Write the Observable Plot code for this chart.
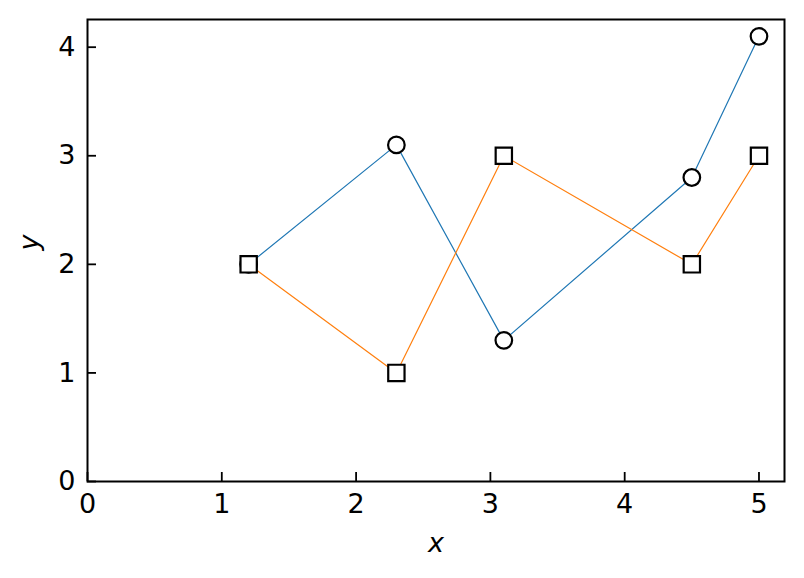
<!DOCTYPE html>
<html>
<head>
<meta charset="utf-8">
<script src="https://cdn.jsdelivr.net/npm/d3@7"></script>
<script src="https://cdn.jsdelivr.net/npm/@observablehq/plot@0.6"></script>
<style>
  html, body { margin: 0; padding: 0; background: #fff; }
  svg { display: block; }
</style>
</head>
<body>
<div id="chart"></div>
<script>
const xValues = [1.2, 2.3, 3.1, 4.5, 5.0];
const seriesA = [2.0, 3.1, 1.3, 2.8, 4.1];
const seriesB = [2.0, 1.0, 3.0, 2.0, 3.0];
const xTicks = [0, 1, 2, 3, 4, 5];
const yTicks = [0, 1, 2, 3, 4];

const dataA = xValues.map((x, i) => ({x, y: seriesA[i]}));
const dataB = xValues.map((x, i) => ({x, y: seriesB[i]}));

const chart = Plot.plot({
  width: 804,
  height: 578,
  marginLeft: 87,
  marginRight: 20,
  marginTop: 19,
  marginBottom: 97,
  style: {fontFamily: "DejaVu Sans", fontSize: "27px", color: "#000", background: "#fff"},
  x: {domain: [0, 5.19]},
  y: {domain: [0, 4.255]},
  marks: [
    Plot.axisX({ticks: xTicks, tickSize: -9, tickPadding: 21, strokeWidth: 1.8, label: null, fontSize: 27, tickFormat: d => String(d)}),
    Plot.axisY({ticks: yTicks, tickSize: -9, tickPadding: 21, strokeWidth: 1.8, label: null, fontSize: 27, tickFormat: d => String(d)}),
    Plot.line(dataA, {x: "x", y: "y", stroke: "#1f77b4", strokeWidth: 1.2}),
    Plot.dot(dataA, {x: "x", y: "y", symbol: "circle", r: 8.3, fill: "#fff", stroke: "#000", strokeWidth: 2.2}),
    Plot.line(dataB, {x: "x", y: "y", stroke: "#ff7f0e", strokeWidth: 1.2}),
    Plot.dot(dataB, {x: "x", y: "y", symbol: "square", r: 9.2, fill: "#fff", stroke: "#000", strokeWidth: 2.2}),
    Plot.frame({stroke: "#000", strokeWidth: 2}),
    Plot.text(["x"], {frameAnchor: "bottom", dy: 70, fontStyle: "italic", fontSize: 27}),
    Plot.text(["y"], {frameAnchor: "left", dx: -58, rotate: -90, fontStyle: "italic", fontSize: 27})
  ]
});
document.getElementById("chart").appendChild(chart);
</script>
</body>
</html>
